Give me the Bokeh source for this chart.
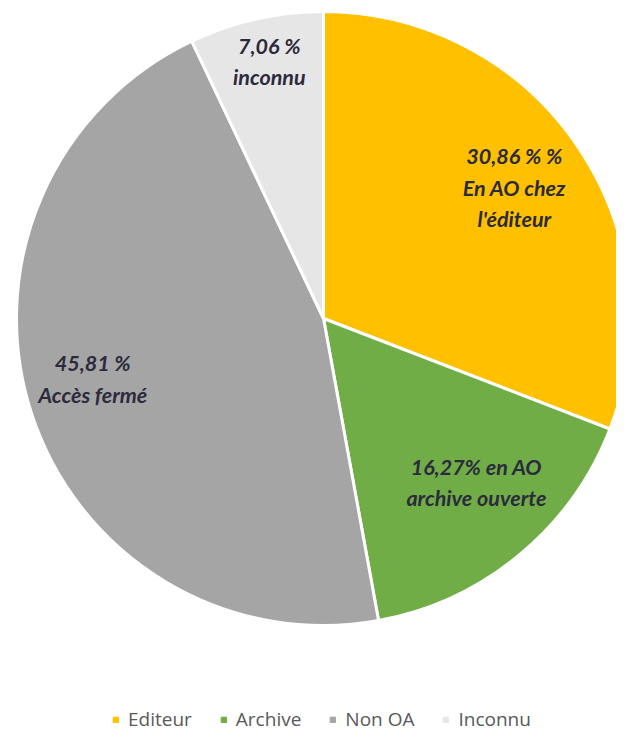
import numpy as np
from bokeh.plotting import figure
from bokeh.models import Range1d, ColumnDataSource, Legend, LegendItem
from bokeh.core.properties import value
from bokeh.embed import file_html
from bokeh.resources import INLINE

# ---- data ----
categories = ["Editeur", "Archive", "Non OA", "Inconnu"]
shares = [30.86, 16.27, 45.81, 7.06]
slice_labels = ["30,86 % %\nEn AO chez\nl'éditeur",
                "16,27% en AO\narchive ouverte",
                "45,81 %\nAccès fermé",
                "7,06 %\ninconnu"]
colors = ["#FFC000", "#70AD47", "#A5A5A5", "#E7E6E6"]

# ---- layout ----
W, H = 616, 734
cx, cy, R = 323, 416, 307
label_r = [0.754, 0.73, 0.777, 0.855]
label_dtheta = [0.0, -3.4, 3.2, 0.8]   # degrees, clockwise

vals = np.array(shares)
frac = vals / vals.sum()
cum = np.concatenate([[0], np.cumsum(frac)])
# clockwise from 12 o'clock
start = np.pi / 2 - cum[1:] * 2 * np.pi
end = np.pi / 2 - cum[:-1] * 2 * np.pi
theta = np.radians((cum[:-1] + cum[1:]) / 2 * 360 + np.array(label_dtheta))

src = ColumnDataSource(dict(cat=categories, start=start, end=end, color=colors))

p = figure(width=W, height=H, output_backend="svg", toolbar_location=None,
           x_range=Range1d(0, W), y_range=Range1d(0, H), min_border=0,
           outline_line_color=None)
p.axis.visible = False
p.grid.visible = False
p.background_fill_color = "white"

r = p.wedge(x=cx, y=cy, radius=R, start_angle="start", end_angle="end",
            color="color", line_color="white", line_width=3, source=src)

# legend proxy (no white outline so squares show)
lr = p.rect(x=-100, y=-100, width=1, height=1, color="color", source=src)

lx = cx + np.array(label_r) * R * np.sin(theta)
ly = cy + np.array(label_r) * R * np.cos(theta)
lsrc = ColumnDataSource(dict(x=lx, y=ly, t=slice_labels))
p.text(x="x", y="y", text="t", source=lsrc, text_align="center",
       text_baseline="middle", text_font=value("Lato"),
       text_font_style="bold italic", text_font_size="21.5px",
       text_color="#2b2b3d", text_line_height=1.2)

items = [LegendItem(label=c, renderers=[lr], index=i) for i, c in enumerate(categories)]
legend = Legend(items=items, orientation="horizontal", location=(112, 2),
                border_line_color=None, background_fill_alpha=0,
                padding=0, margin=0, spacing=28, label_standoff=9,
                glyph_width=7, glyph_height=7, label_height=20,
                label_text_font="Open Sans", label_text_font_size="19px",
                label_text_color="#595959")
p.add_layout(legend, "center")

open("out.html", "w").write(file_html(p, INLINE))
